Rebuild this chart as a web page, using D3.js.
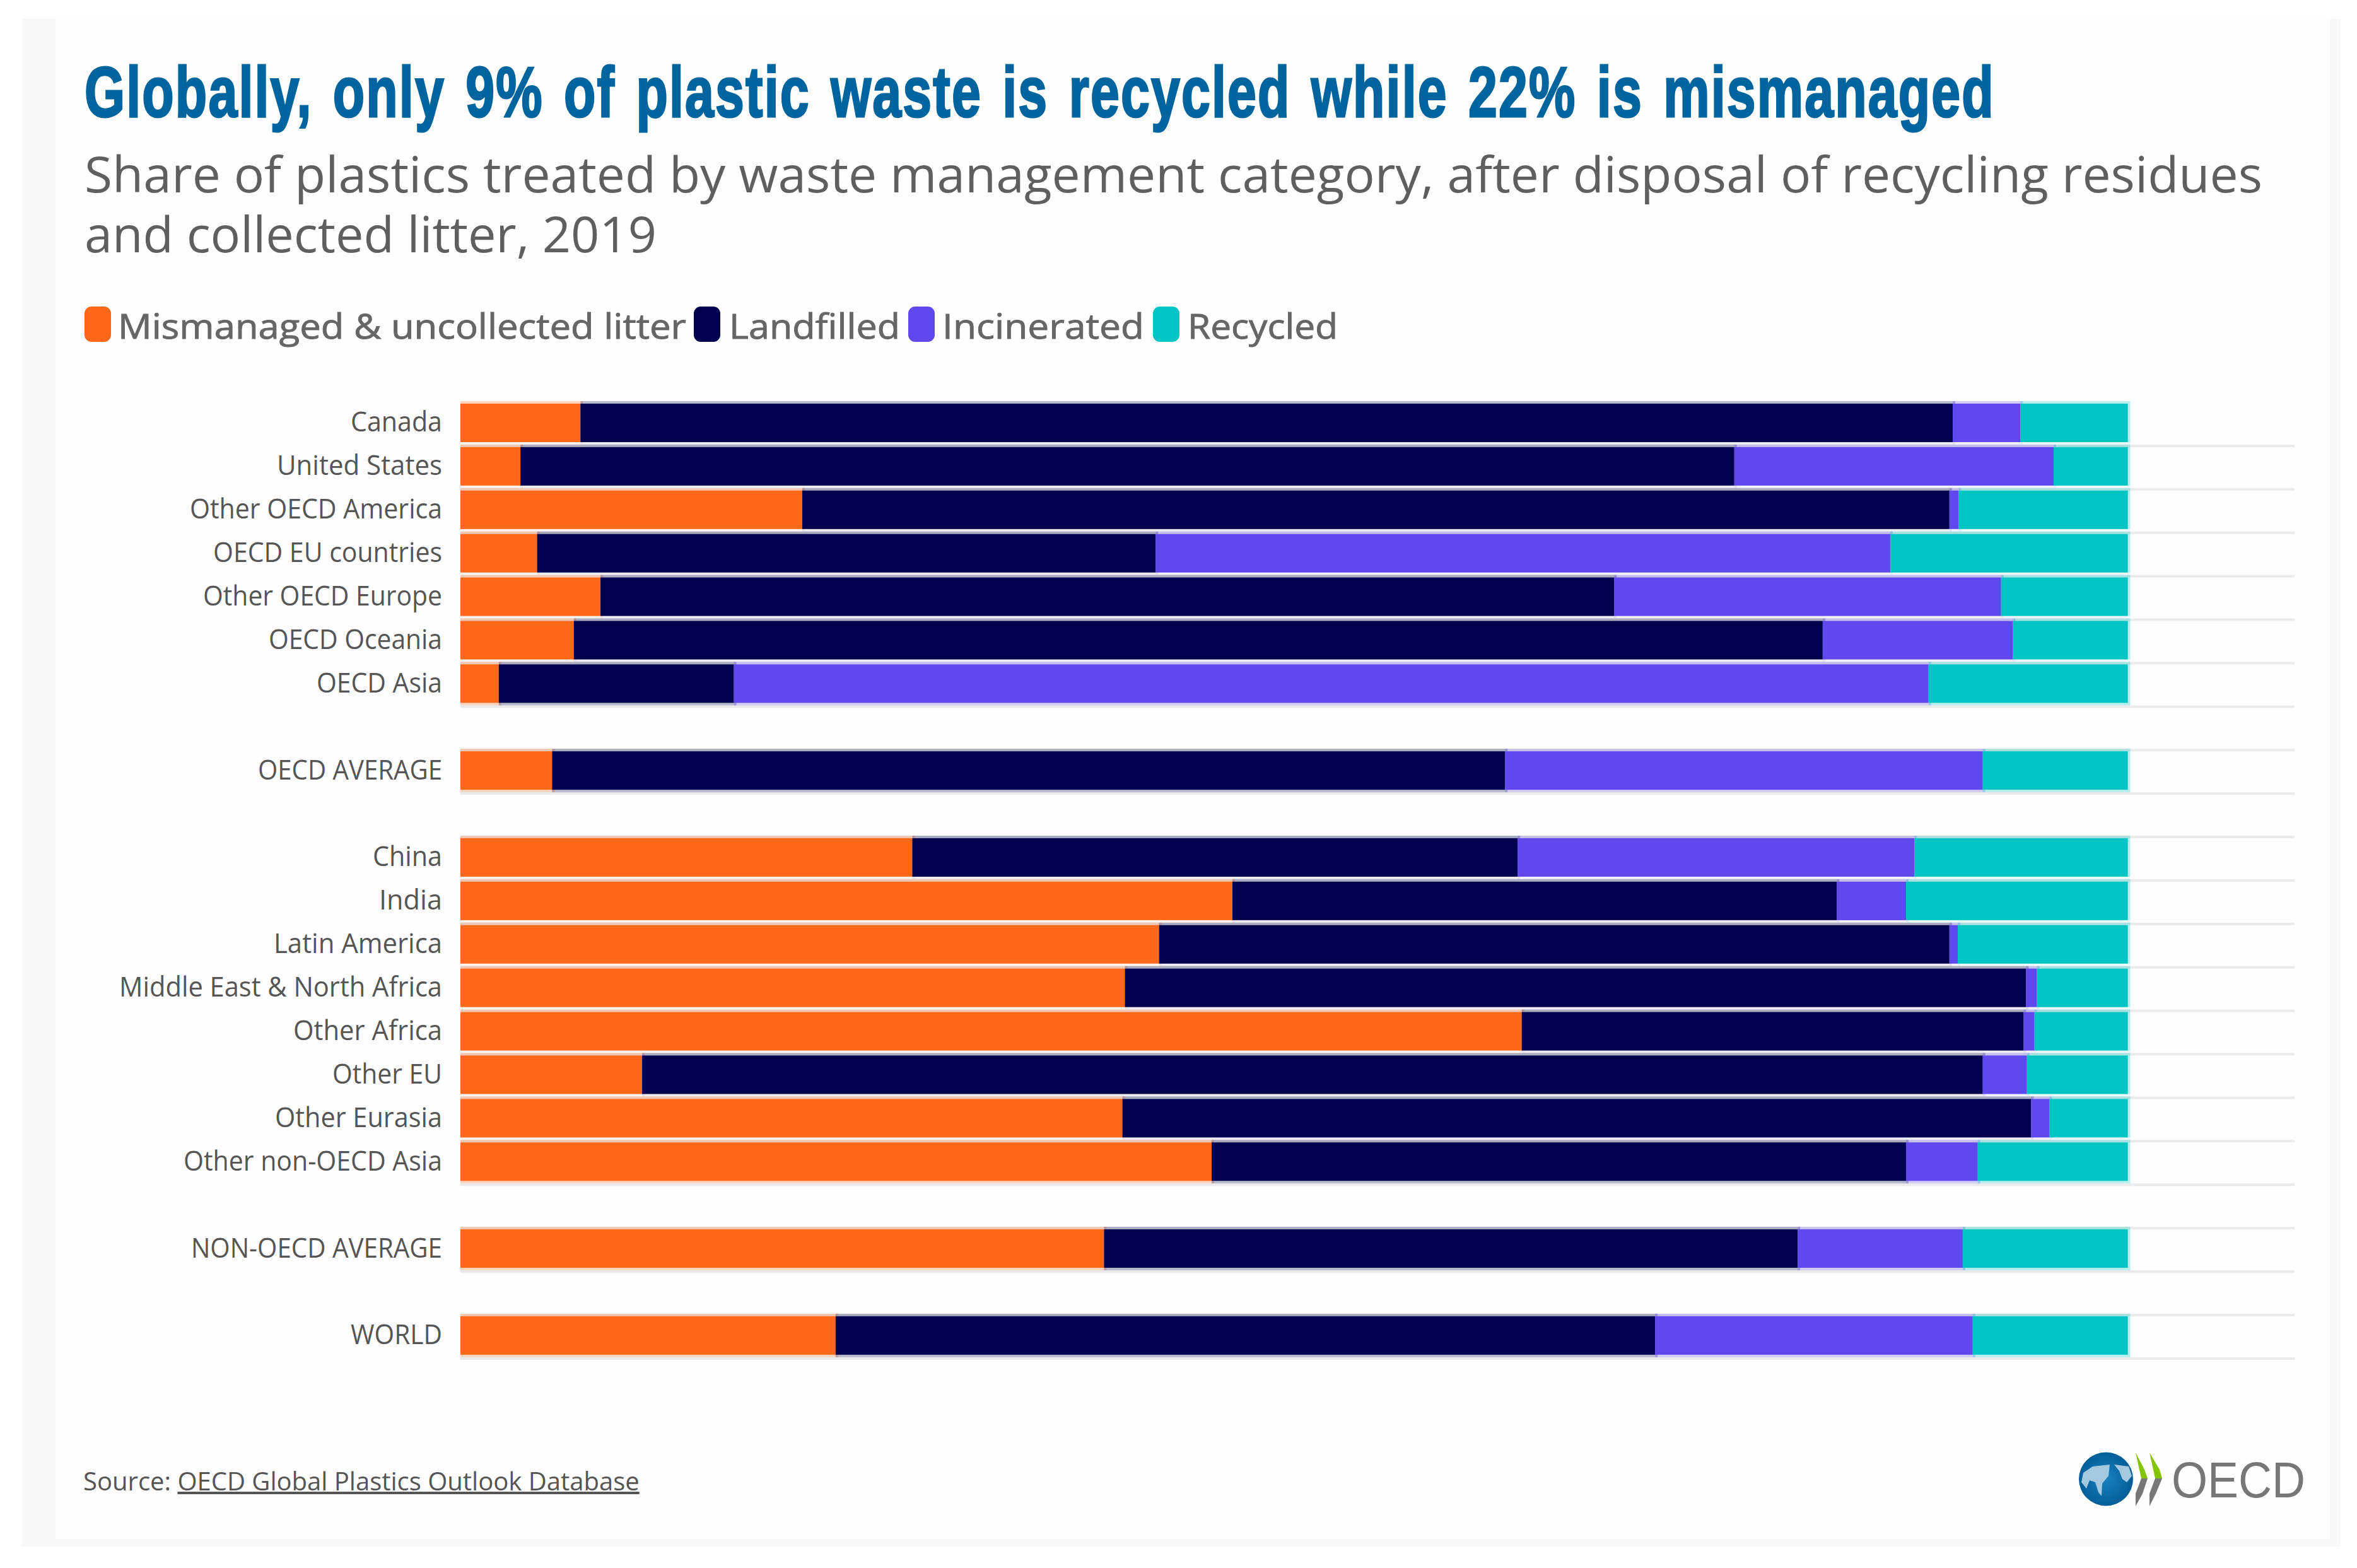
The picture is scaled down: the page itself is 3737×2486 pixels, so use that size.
<!DOCTYPE html>
<html>
<head>
<meta charset="utf-8">
<script src="https://cdn.jsdelivr.net/npm/d3@7"></script>
<style>
html,body{margin:0;padding:0;background:#fff;}
svg{display:block;}
</style>
</head>
<body>
<svg id="chart" width="3737" height="2486"></svg>
<script>
const titleText = "Globally, only 9% of plastic waste is recycled while 22% is mismanaged";
const subtitleLines = ["Share of plastics treated by waste management category, after disposal of recycling residues","and collected litter, 2019"];
const sourceLabel = "Source: ";
const sourceLink = "OECD Global Plastics Outlook Database";

const categories = ["Canada","United States","Other OECD America","OECD EU countries","Other OECD Europe","OECD Oceania","OECD Asia","gap1","OECD AVERAGE","gap2","China","India","Latin America","Middle East & North Africa","Other Africa","Other EU","Other Eurasia","Other non-OECD Asia","gap3","NON-OECD AVERAGE","gap4","WORLD"];
const seriesNames = ["Mismanaged & uncollected litter","Landfilled","Incinerated","Recycled"];
const seriesColors = ["#ff6819","#00004f","#5e48ee","#00c5c4"];

const mismanaged  = [7.2,3.6,20.5,4.6,8.4,6.8,2.3,0,5.5,0,27.1,46.3,41.9,39.85,63.65,10.9,39.7,45.05,0,38.6,0,22.5];
const landfilled  = [82.3,72.8,68.8,37.1,60.8,74.9,14.1,0,57.15,0,36.3,36.25,47.4,54.05,30.1,80.4,54.5,41.65,0,41.6,0,49.15];
const incinerated = [4.05,19.15,0.55,44.05,23.2,11.4,71.65,0,28.65,0,23.8,4.15,0.5,0.65,0.65,2.65,1.1,4.3,0,9.9,0,19.05];
const recycled    = [6.45,4.45,10.15,14.25,7.6,6.9,11.95,0,8.7,0,12.8,13.3,10.2,5.45,5.6,6.05,4.7,9.0,0,9.9,0,9.3];

// label widths as measured on the reference, in page pixels
const labelWidths = {"Canada":145,"United States":262,"Other OECD America":400,"OECD EU countries":363,"Other OECD Europe":379,"OECD Oceania":275,"OECD Asia":199,"OECD AVERAGE":292,"China":110,"India":100,"Latin America":267,"Middle East & North Africa":512,"Other Africa":236,"Other EU":174,"Other Eurasia":265,"Other non-OECD Asia":410,"NON-OECD AVERAGE":398,"WORLD":145};

const svg = d3.select("#chart");
const FONT = "'Open Sans','Noto Sans',sans-serif";

// page panel
svg.append("rect").attr("x",35).attr("y",30).attr("width",3676).attr("height",2422).attr("fill","#f8f8f8");
svg.append("rect").attr("x",88).attr("y",30).attr("width",3607).attr("height",2410).attr("fill","#fefefe");

// title block: the heavy condensed look comes from a horizontal squeeze and a thin outline
const title = svg.append("text").text(titleText)
  .attr("font-family","'Liberation Sans Narrow','Liberation Sans',sans-serif").attr("font-weight",700)
  .attr("font-size",114).attr("letter-spacing",3).attr("word-spacing",10)
  .attr("fill","#00649e").attr("stroke","#00649e").attr("stroke-width",3);
const titleW = title.node().getComputedTextLength();
title.attr("transform",`translate(134,185) scale(${3029/titleW},1)`);

const subWidths = [3453,907];
svg.selectAll("text.sub").data(subtitleLines).join("text").attr("class","sub")
  .attr("x",134).attr("y",(d,i)=>305+i*95).text(d=>d)
  .attr("font-family",FONT).attr("font-size",79).attr("fill","#5f5f5f")
  .attr("textLength",(d,i)=>subWidths[i]).attr("lengthAdjust","spacingAndGlyphs");

// legend
const legendSwatchX = [134,1100,1440,1828];
const legendTextX = [187,1156,1494,1883];
const legendTextW = [901,271,320,238];
const lg = svg.append("g").selectAll("g").data(seriesNames).join("g");
lg.append("rect").attr("x",(d,i)=>legendSwatchX[i]).attr("y",486).attr("width",42).attr("height",56)
  .attr("rx",11).attr("fill",(d,i)=>seriesColors[i]);
lg.append("text").attr("x",(d,i)=>legendTextX[i]).attr("y",537).text(d=>d)
  .attr("font-family",FONT).attr("font-weight",400).attr("font-size",54).attr("fill","#666")
  .attr("stroke","#666").attr("stroke-width",0.9)
  .attr("textLength",(d,i)=>legendTextW[i]).attr("lengthAdjust","spacingAndGlyphs");

// scales
const x = d3.scaleLinear().domain([0,110]).range([730,3638]);
const p = 7.9/68.9;
const y = d3.scaleBand().domain(categories).range([636,636+22*68.9]).paddingInner(p).paddingOuter(p/2);
const isGap = c => c.startsWith("gap");

// grid
const gridThick = 4;
svg.append("g").selectAll("rect").data(categories).join("rect")
  .attr("x",x(0)).attr("width",x(110)-x(0))
  .attr("y",c=>y(c)+y.bandwidth()+4).attr("height",gridThick).attr("fill","#ebebeb");

// stacked bars
const rows = categories.map((c,i)=>({category:c,[seriesNames[0]]:mismanaged[i],[seriesNames[1]]:landfilled[i],[seriesNames[2]]:incinerated[i],[seriesNames[3]]:recycled[i]})).filter(r=>!isGap(r.category));
const stacked = d3.stack().keys(seriesNames)(rows);
const nextIsBar = c => { const n = categories[categories.indexOf(c)+1]; return n !== undefined && !isGap(n); };
const tintLayer = svg.append("g");
const solidLayer = svg.append("g");
stacked.forEach((s,k)=>{
  const tint = tintLayer.append("g").attr("fill",seriesColors[k]);
  tint.selectAll("rect.body").data(s).join("rect").attr("class","body").attr("fill-opacity",0.27)
    .attr("x",d=>x(d[0])).attr("width",d=>x(d[1])-x(d[0])+4)
    .attr("y",d=>y(d.data.category)-4).attr("height",y.bandwidth()+4);
  tint.selectAll("rect.under").data(s).join("rect").attr("class","under")
    .attr("fill-opacity",d=>nextIsBar(d.data.category)?0.07:0.27)
    .attr("x",d=>x(d[0])).attr("width",d=>x(d[1])-x(d[0])+4)
    .attr("y",d=>y(d.data.category)+y.bandwidth()).attr("height",4);
  solidLayer.append("g").attr("fill",seriesColors[k])
    .selectAll("rect").data(s).join("rect")
    .attr("x",d=>x(d[0])).attr("width",d=>x(d[1])-x(d[0]))
    .attr("y",d=>y(d.data.category)).attr("height",y.bandwidth());
});

// category axis
const axis = d3.axisLeft(y).tickSize(0).tickPadding(0).tickValues(categories.filter(c=>!isGap(c)));
const ag = svg.append("g").attr("transform","translate(701,0)").call(axis);
ag.select(".domain").remove();
ag.selectAll("text").attr("font-family",FONT).attr("font-size",44).attr("fill","#555").attr("dy","14px")
  .attr("textLength",d=>labelWidths[d]).attr("lengthAdjust","spacingAndGlyphs");

// source
const src = svg.append("text").attr("x",132).attr("y",2363)
  .attr("font-family",FONT).attr("font-size",40).attr("fill","#555");
src.append("tspan").text(sourceLabel);
src.append("tspan").attr("text-decoration","underline").text(sourceLink);

// logo
const defs = svg.append("defs");
const grad = defs.append("radialGradient").attr("id","globe").attr("cx","50%").attr("cy","50%").attr("r","55%");
grad.append("stop").attr("offset","0%").attr("stop-color","#1a82bd");
grad.append("stop").attr("offset","100%").attr("stop-color","#005a94");
const logo = svg.append("g");
logo.append("ellipse").attr("cx",3339).attr("cy",2345).attr("rx",43).attr("ry",42.5).attr("fill","url(#globe)");
logo.append("path").attr("fill","#a4c8de")
  .attr("d","M3303 2335 L3318 2325 L3345 2322 L3343 2340 L3333 2352 L3332 2372 L3327 2366 L3322 2350 L3313 2347 L3308 2360 L3300 2350 Z");
logo.append("path").attr("fill","#a4c8de")
  .attr("d","M3352 2322 L3375 2325 L3380 2340 L3372 2350 L3365 2345 L3360 2332 Z");
logo.append("path").attr("fill","#84c400").attr("d","M3386 2303 L3400 2330 L3405 2344 L3395 2344 Z M3408 2303 L3424 2330 L3428 2344 L3417 2344 Z");
logo.append("path").attr("fill","#777").attr("d","M3395 2344 L3405 2344 L3397 2368 L3386 2388 L3386 2368 Z M3417 2344 L3428 2344 L3418 2368 L3408 2388 L3408 2368 Z");
logo.append("text").attr("x",3443).attr("y",2374).text("OECD")
  .attr("font-family","'Liberation Sans',sans-serif").attr("font-size",80).attr("fill","#777")
  .attr("textLength",212).attr("lengthAdjust","spacingAndGlyphs");
</script>
</body>
</html>
